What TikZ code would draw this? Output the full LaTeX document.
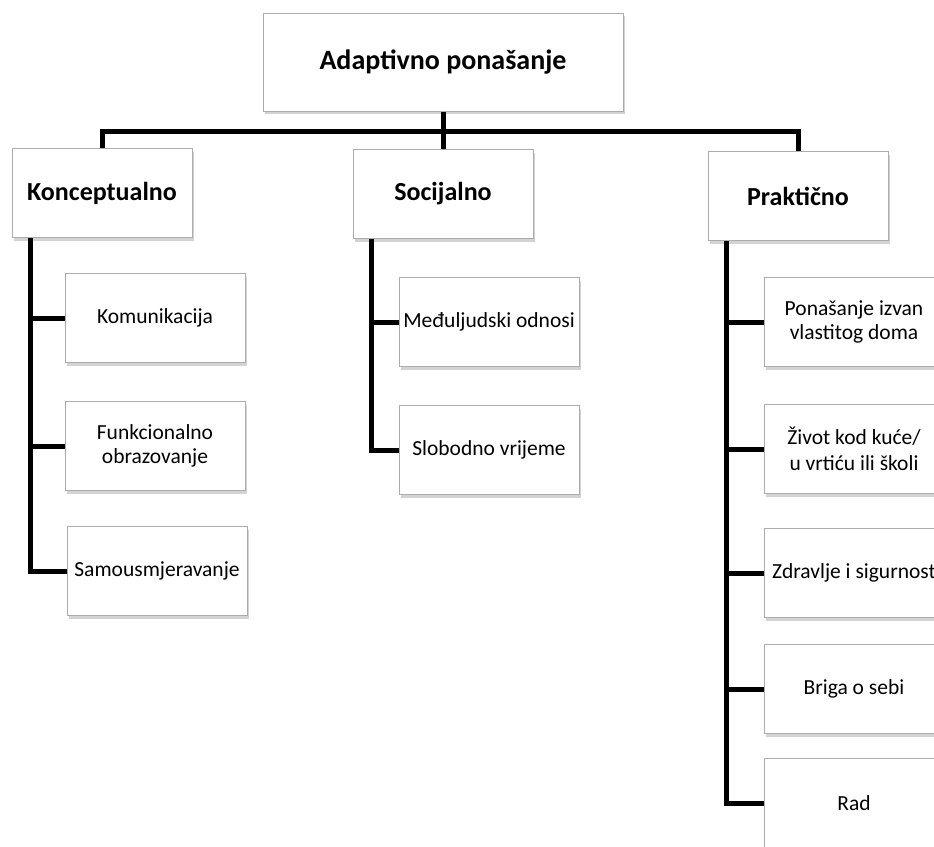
\documentclass[tikz,border=0pt]{standalone}
\usepackage{fontspec}
\setmainfont{Carlito}
\usetikzlibrary{shadows}

\tikzset{
  box/.style={draw=gray!65, fill=white, line width=1pt, minimum width=180pt,
    minimum height=89pt, inner sep=0pt, align=center,
    drop shadow={shadow xshift=2pt, shadow yshift=-3pt, opacity=0.35, fill=gray}},
  topbox/.style={box, minimum width=360pt, minimum height=98pt,
    font=\fontsize{28}{30}\selectfont\bfseries},
  headbox/.style={box, font=\fontsize{26}{28}\selectfont\bfseries},
  subbox/.style={box, font=\fontsize{21.5}{24}\selectfont},
  conn/.style={line width=5pt, black},
}

\begin{document}
\begin{tikzpicture}[x=1pt, y=-1pt]
  \clip (0,0) rectangle (934,846);
  \coordinate (bus) at (0,131);

  % vrh
  \node[topbox] (top) at (443,62) {Adaptivno ponašanje};

  % tri grane
  \node[headbox] (konc) at (102,193) {Konceptualno};
  \node[headbox] (soc) at (443,194) {Socijalno};
  \node[headbox] (prak) at (798,196) {Praktično};

  % konceptualno
  \node[subbox] (kom) at (155,318) {Komunikacija};
  \node[subbox] (fun) at (155,446) {Funkcionalno\\obrazovanje};
  \node[subbox] (sam) at (157,571) {Samousmjeravanje};

  % socijalno
  \node[subbox] (med) at (489,322) {Međuljudski odnosi};
  \node[subbox] (slo) at (489,450) {Slobodno vrijeme};

  % prakticno
  \node[subbox] (pon) at (854,322) {Ponašanje izvan\\vlastitog doma};
  \node[subbox] (ziv) at (854,449) {Život kod kuće/\\[2pt]u vrtiću ili školi};
  \node[subbox] (zdr) at (854,573) {Zdravlje i sigurnost};
  \node[subbox] (bri) at (854,689) {Briga o sebi};
  \node[subbox] (rad) at (854,803) {Rad};

  \draw[conn] (konc.north) |- (prak.north |- bus) -- (prak.north);
  \draw[conn] (top.south) -- (soc.north);

  \foreach \c in {kom,fun,sam} {
      \draw[conn] ([xshift=19pt]konc.south west) |- (\c.west);
  }
  \foreach \c in {med,slo} {
      \draw[conn] ([xshift=19pt]soc.south west) |- (\c.west);
  }
  \foreach \c in {pon,ziv,zdr,bri,rad} {
      \draw[conn] ([xshift=19pt]prak.south west) |- (\c.west);
  }
\end{tikzpicture}
\end{document}
